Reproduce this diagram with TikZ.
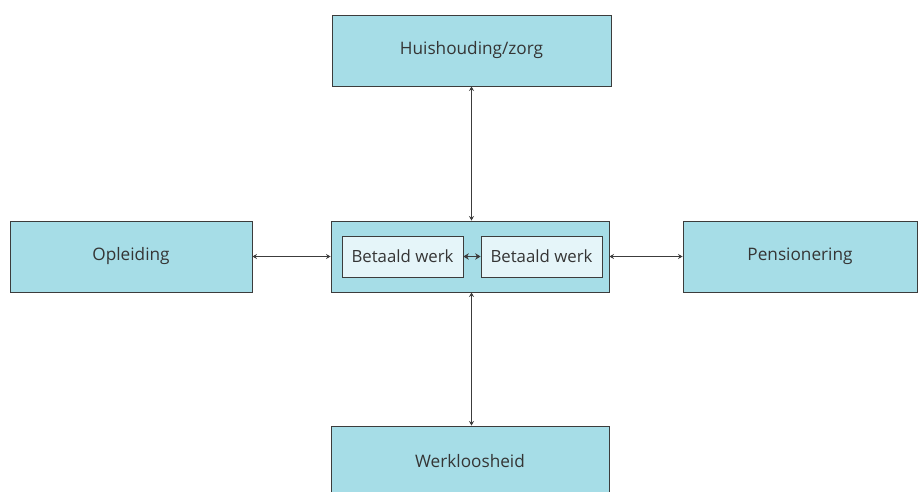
\documentclass[tikz,border=0pt]{standalone}
\usepackage{fontspec}
\setmainfont{Open Sans}
\usetikzlibrary{arrows.meta}
\definecolor{boxfill}{HTML}{A6DDE7}
\definecolor{innerfill}{HTML}{E5F5F9}
\definecolor{edge}{HTML}{3C3C3C}
\definecolor{txt}{HTML}{353535}
\tikzset{
  phase/.style={draw=edge, line width=0.9pt, fill=boxfill, text=txt, inner sep=0pt,
    font=\fontsize{17.2}{20}\selectfont},
  innerbox/.style={draw=edge, line width=0.7pt, fill=innerfill, text=txt, inner sep=0pt,
    minimum width=121pt, minimum height=41pt, font=\fontsize{16.8}{20}\selectfont},
  link/.style={draw=edge, line width=0.8pt, {Stealth[length=4.5pt,width=5pt]}-{Stealth[length=4.5pt,width=5pt]}},
  innerlink/.style={draw=edge, line width=1pt, {Stealth[length=5.5pt,width=6.5pt]}-{Stealth[length=5.5pt,width=6.5pt]}}
}
\begin{document}
\begin{tikzpicture}[x=1pt,y=-1pt]
\useasboundingbox (0,0) rectangle (918,492);
\node[phase, minimum width=279pt, minimum height=71pt] (top) at (471.5,50.5) {Huishouding/zorg};
\node[phase, minimum width=242pt, minimum height=71pt] (left) at (131,256.5) {Opleiding};
\node[phase, minimum width=278pt, minimum height=71pt] (mid) at (470,256.5) {};
\node[phase, minimum width=234pt, minimum height=71pt] (right) at (800,256.5) {Pensionering};
\node[phase, minimum width=278pt, minimum height=71pt] (bot) at (470,461.5) {Werkloosheid};
\node[innerbox] (w1) at (402.5,256.5) {Betaald werk};
\node[innerbox] (w2) at (541.5,256.5) {Betaald werk};
\draw[link] (top.south) -- (top.south |- mid.north);
\draw[link] (mid.south -| top.south) -- (bot.north -| top.south);
\draw[link] (left.east) -- (mid.west);
\draw[link] (mid.east) -- (right.west);
\draw[innerlink] (w1.east) -- (w2.west);
\end{tikzpicture}
\end{document}
